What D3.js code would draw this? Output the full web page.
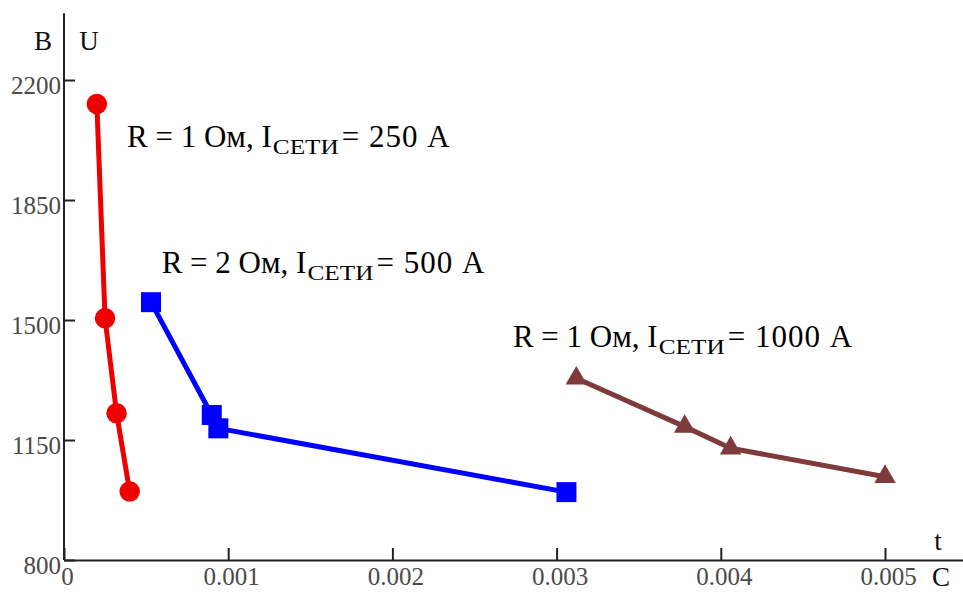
<!DOCTYPE html>
<html>
<head>
<meta charset="utf-8">
<script src="https://cdn.jsdelivr.net/npm/d3@7"></script>
<style>
  body { margin: 0; background: #fff; }
  svg { display: block; }
  .tick text { font-family: "Liberation Serif", "Times New Roman", serif; }
</style>
</head>
<body>
<svg id="chart" width="963" height="592"></svg>
<script>
var width = 963;
var height = 592;

// values
var yTicks = [800, 1150, 1500, 1850, 2200];
var xTicks = [0, 0.001, 0.002, 0.003, 0.004, 0.005];

var tRed = [0.0002, 0.00025, 0.00032, 0.0004];
var uRed = [2130, 1505, 1228, 1000];

var tBlue = [0.00053, 0.0009, 0.00094, 0.00306];
var uBlue = [1552, 1223, 1184, 998];

var tBrown = [0.00312, 0.00378, 0.00406, 0.005];
var uBrown = [1330, 1189, 1126, 1043];

var labelMain = ["R = 2 Ом, I", "R = 1 Ом, I", "R = 1 Ом, I"];
var labelSub = "СЕТИ";
var labelTail = ["= 250 А", "= 500 А", "= 1000 А"];

var svg = d3.select("#chart");

// axis origin at (64, 560), 0.001 s is ~164 px, 350 V is 120 px
var xScale = d3.scaleLinear().domain([0, 0.005475]).range([64, width]);
var yScale = d3.scaleLinear().domain([800, 2200]).range([560, 80]);

var xAxis = d3.axisBottom(xScale)
    .tickValues(xTicks)
    .tickSizeInner(-12)
    .tickSizeOuter(0)
    .tickPadding(7)
    .tickFormat(d => d === 0 ? "0" : d3.format(".3f")(d));

var yAxis = d3.axisLeft(yScale)
    .tickValues(yTicks)
    .tickSizeInner(-11)
    .tickSizeOuter(0)
    .tickPadding(3)
    .tickFormat(d3.format("d"));

var gx = svg.append("g")
    .attr("transform", "translate(0," + yScale(800) + ")")
    .call(xAxis);

var gy = svg.append("g")
    .attr("transform", "translate(" + xScale(0) + ",0)")
    .call(yAxis);

// y axis goes on past the last tick
gy.select(".domain").attr("d", "M0," + yScale(800) + "V" + yScale(2395));

[gx, gy].forEach(function (g) {
    g.select(".domain").attr("stroke", "#222").attr("stroke-width", 2);
    g.selectAll(".tick line").attr("stroke", "#222").attr("stroke-width", 2);
    g.selectAll(".tick text")
        .attr("fill", "#4a4a4a")
        .style("font-size", "25px");
});
gx.selectAll(".tick text").attr("x", 3);
gy.selectAll(".tick text").attr("dy", "0.52em");

// axis names
var nameFont = '"Liberation Serif", "Times New Roman", serif';
function axisName(x, y, txt) {
    svg.append("text")
        .attr("x", x)
        .attr("y", y)
        .attr("text-anchor", "middle")
        .style("font-family", nameFont)
        .style("font-size", "27px")
        .attr("fill", "#111")
        .text(txt);
}
axisName(43, 50, "В");
axisName(89, 50, "U");
axisName(938, 550, "t");
axisName(941, 586, "С");

var line = d3.line()
    .x(d => xScale(d[0]))
    .y(d => yScale(d[1]));

function series(ts, us, color, shape, size) {
    var pts = d3.zip(ts, us);
    var g = svg.append("g");
    g.append("path")
        .datum(pts)
        .attr("d", line)
        .attr("fill", "none")
        .attr("stroke", color)
        .attr("stroke-width", 5)
        .attr("stroke-linejoin", "round");
    g.selectAll("path.mark")
        .data(pts)
        .enter()
        .append("path")
        .attr("class", "mark")
        .attr("transform", d => "translate(" + xScale(d[0]) + "," + yScale(d[1]) + ")")
        .attr("d", d3.symbol().type(shape).size(size))
        .attr("fill", color);
}

series(tRed, uRed, "#ee0000", d3.symbolCircle, 330);
series(tBlue, uBlue, "#0000ff", d3.symbolSquare, 400);
series(tBrown, uBrown, "#7f3b3b", d3.symbolTriangle, 200);

// annotations, placed in data space (start of text, baseline)
var notes = [
    { t: 0.000384, u: 2005, i: 1, tail: 0 },
    { t: 0.000595, u: 1636, i: 0, tail: 1 },
    { t: 0.002734, u: 1421, i: 2, tail: 2 }
];

notes.forEach(function (n) {
    var txt = svg.append("text")
        .attr("x", xScale(n.t))
        .attr("y", yScale(n.u))
        .style("font-family", nameFont)
        .style("font-size", "31px")
        .attr("fill", "#000");
    txt.append("tspan").text(labelMain[n.i]);
    txt.append("tspan")
        .attr("dy", 7)
        .attr("dx", 1)
        .attr("textLength", 66)
        .attr("lengthAdjust", "spacingAndGlyphs")
        .style("font-size", "20px")
        .text(labelSub);
    txt.append("tspan")
        .attr("dy", -7)
        .attr("dx", 3)
        .style("letter-spacing", "1px")
        .text(labelTail[n.tail]);
});
</script>
</body>
</html>
